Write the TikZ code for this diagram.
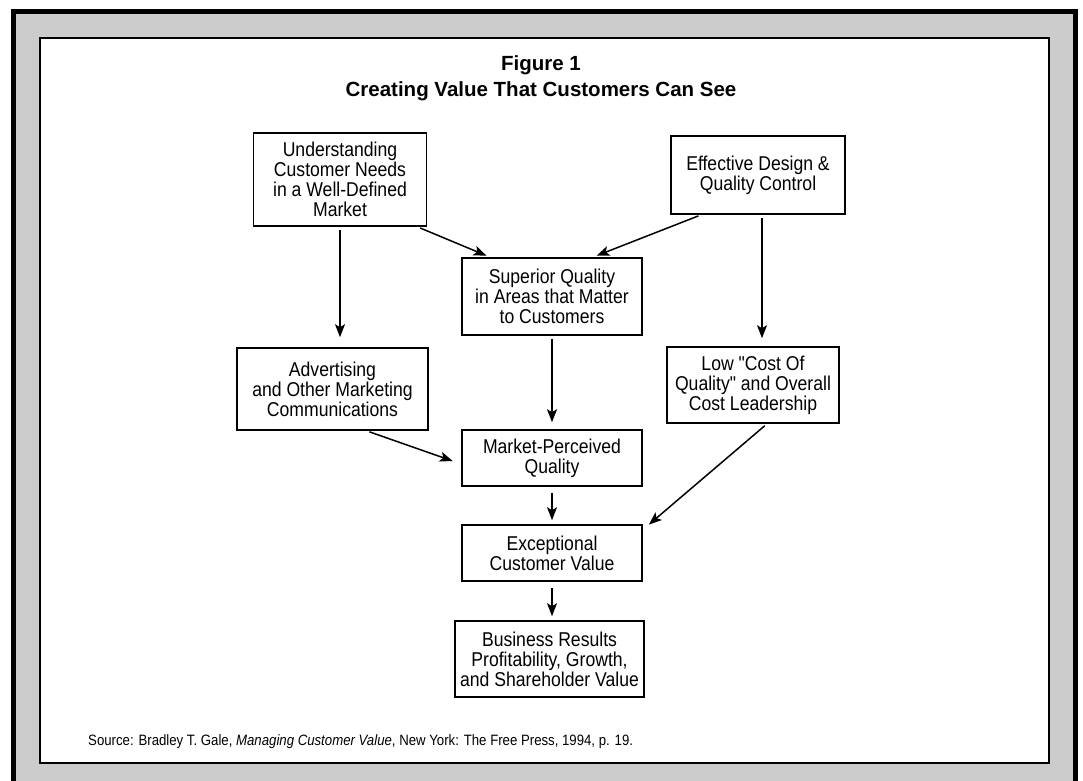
\documentclass[tikz,border=0pt]{standalone}
\usepackage{fontspec}
\usetikzlibrary{arrows.meta}
\setmainfont{Liberation Sans}
\newfontfamily\boxfont[FakeStretch=0.88]{Liberation Sans}
\definecolor{rahmengrau}{HTML}{CCCCCC}
\tikzset{
  kasten/.style={draw, line width=1.6pt, fill=white, align=center, inner sep=0pt,
    font=\boxfont\fontsize{20}{20}\selectfont},
  pfeil/.style={line width=1.5pt, -{Stealth[length=13pt,width=10pt,inset=3pt]},
    shorten <=3pt, shorten >=4pt}
}

\begin{document}
\begin{tikzpicture}[x=1pt,y=-1pt]
          \useasboundingbox (0,0) rectangle (1083,780);
          \clip (0,0) rectangle (1083,780);

          % Rahmen
          \draw[line width=5pt, fill=rahmengrau] (13.5,11.5) rectangle (1075.5,820);
          \draw[line width=1.5pt, fill=white] (40,38) rectangle (1049,763);

          % Titel
          \node[anchor=base, font=\bfseries\fontsize{20.5}{25}\selectfont] (fig) at (541,70.7) {Figure 1};
          \node[anchor=base, font=\bfseries\fontsize{20.5}{25}\selectfont] (ttl) at (541,96) {Creating Value That Customers Can See};

          % Kaesten
          \node[kasten, minimum width=173pt, minimum height=93pt] (und) at (340,179.5)
            {Understanding\\Customer Needs\\in a Well-Defined\\Market};
          \node[kasten, minimum width=174pt, minimum height=78pt] (eff) at (758,175)
            {Effective Design \&\\Quality Control};
          \node[kasten, minimum width=180pt, minimum height=77pt] (sup) at (552,296.5)
            {Superior Quality\\in Areas that Matter\\to Customers};
          \node[kasten, minimum width=191pt, minimum height=82pt] (adv) at (332.5,389)
            {Advertising\\and Other Marketing\\Communications};
          \node[kasten, minimum width=172pt, minimum height=76pt] (low) at (753,385)
            {Low "Cost Of\\Quality" and Overall\\Cost Leadership};
          \node[kasten, minimum width=180pt, minimum height=56pt] (mkt) at (552,458)
            {Market-Perceived\\Quality};
          \node[kasten, minimum width=180pt, minimum height=56pt] (exc) at (552,553)
            {Exceptional\\Customer Value};
          \node[kasten, minimum width=189pt, minimum height=76pt] (res) at (549.5,659)
            {Business Results\\Profitability, Growth,\\and Shareholder Value};

          % Quelle
          \node[anchor=base west, inner sep=0pt, font=\boxfont\fontsize{15}{17}\selectfont] (src) at (88,745)
            {Source: Bradley T. Gale, \emph{Managing Customer Value}, New York: The Free Press, 1994, p. 19.};

          % Pfeile
          \draw[pfeil, shorten >=10pt] (und.south) -- (und.south |- adv.north);
          \draw[pfeil] ([xshift=-10pt]und.south east) -- ([xshift=29pt]sup.north west);
          \draw[pfeil] ([xshift=31pt]eff.south west) -- ([xshift=-50pt]sup.north east);
          \draw[pfeil, shorten >=8pt] ([xshift=4pt]eff.south) -- ([xshift=4pt]eff.south |- low.north);
          \draw[pfeil, shorten >=7pt] (sup) -- (mkt);
          \draw[pfeil, shorten >=9pt] ([xshift=34pt]adv.south) -- ([yshift=-6pt]mkt.west);
          \draw[pfeil] ([xshift=14pt]low.south) -- ([xshift=3pt,yshift=-3pt]exc.north east);
          \draw[pfeil, shorten <=6pt] (mkt) -- (exc);
          \draw[pfeil, shorten <=6pt] (exc) -- (exc |- res.north);
        \end{tikzpicture}
\end{document}
